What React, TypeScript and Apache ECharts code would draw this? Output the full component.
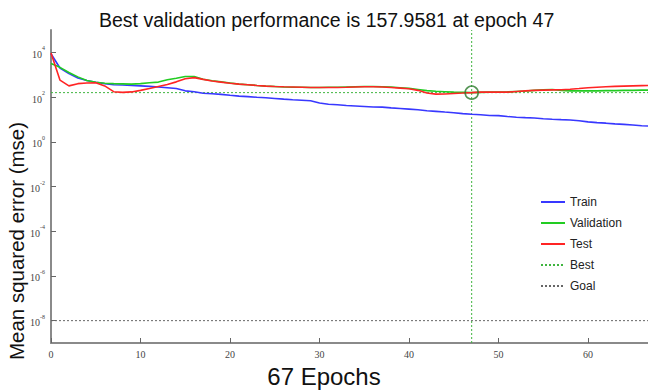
import React, { useEffect, useRef } from "react";
import * as echarts from "echarts";

// Mean squared error per epoch (epochs 0..67)
const trainMse = [
  8700, 2000, 1120, 710, 550, 457, 398, 355, 347, 331,
  316, 302, 282, 263, 240, 190, 174, 148, 141, 132,
  120, 110, 105, 98, 93, 87, 81, 76, 72, 68,
  54, 48, 45, 42, 40, 38, 36, 35.5, 33, 31,
  29, 27, 24.5, 23, 21.4, 20, 18.2, 17, 16.2, 15.1,
  14.8, 13.5, 12.6, 12, 11.5, 10.7, 10.2, 9.8, 9.5, 8.7,
  7.8, 7.2, 6.8, 6.3, 6, 5.6, 5.2, 5,
];
const validationMse = [
  3200, 2140, 1260, 800, 550, 457, 417, 398, 389, 380,
  398, 437, 468, 600, 690, 830, 830, 630, 537, 479,
  427, 380, 355, 331, 309, 295, 282, 275, 275, 269,
  269, 275, 275, 282, 288, 295, 295, 288, 282, 263,
  245, 219, 195, 182, 174, 166, 162, 157.9581, 162, 166,
  166, 170, 178, 186, 200, 214, 219, 200, 190, 190,
  190, 190, 195, 195, 200, 200, 204, 204,
];
const testMse = [
  9300, 575, 316, 398, 427, 437, 316, 174, 162, 170,
  200, 240, 295, 363, 479, 660, 741, 617, 525, 468,
  417, 380, 355, 331, 309, 295, 288, 282, 275, 269,
  269, 269, 269, 275, 282, 288, 288, 282, 269, 251,
  234, 200, 151, 135, 138, 145, 151, 158, 166, 166,
  166, 166, 178, 190, 200, 204, 209, 214, 224, 240,
  263, 275, 288, 302, 309, 316, 324, 331,
];
const bestEpoch = 47;
const bestPerf = 157.9581;
const goalMse = 1e-8;
const epochMax = 66.7;
// y axis runs over decades 1e-9 .. 1e5; labelled every second decade
const decadeMin = -9;
const decadeMax = 5;
const labelledDecades = [-8, -6, -4, -2, 0, 2, 4];
const legendNames = ["Train", "Validation", "Test", "Best", "Goal"];

// the y axis is a decade (log10) axis
const lg = (v: number) => Math.log10(v);
const toPoints = (vals: number[]) => vals.map((v, i) => [i, lg(v)]);

export default function App() {
  const ref = useRef<HTMLDivElement>(null);

  useEffect(() => {
    document.body.style.margin = "0";
    const chart = echarts.init(ref.current!, undefined, { renderer: "svg" });
    const sans = "Liberation Sans, Arial, sans-serif";
    const serif = "Liberation Serif, Times New Roman, serif";
    const noSym = { symbol: "none", showSymbol: false };
    const bestColor = "#3fb53f";

    chart.setOption({
      animation: false,
      backgroundColor: "#ffffff",
      title: {
        text: `Best validation performance is ${bestPerf} at epoch ${bestEpoch}`,
        left: 94,
        top: 5,
        textStyle: { fontFamily: sans, fontSize: 19.5, fontWeight: "normal", color: "#111" },
      },
      grid: { left: 51, right: 0, top: 30, bottom: 49 },
      xAxis: {
        type: "value",
        min: 0,
        max: epochMax,
        interval: 10,
        axisLine: { onZero: false, lineStyle: { color: "#8a8a8a", width: 2 } },
        axisTick: { inside: true, length: 5, lineStyle: { color: "#666" } },
        axisLabel: { fontFamily: serif, fontSize: 10, color: "#444", margin: 6, showMaxLabel: false },
        splitLine: { show: false },
      },
      yAxis: {
        type: "value",
        min: decadeMin,
        max: decadeMax,
        axisLine: { onZero: false, lineStyle: { color: "#8a8a8a", width: 2 } },
        axisTick: {
          inside: true,
          length: 5,
          lineStyle: { color: "#666" },
          customValues: labelledDecades,
        },
        splitLine: { show: false },
        axisLabel: {
          customValues: labelledDecades,
          margin: 6,
          formatter: (v: number) => `{b|10}{s|${Math.round(v)}}`,
          rich: {
            b: { fontFamily: serif, fontSize: 10, color: "#444", verticalAlign: "bottom", lineHeight: 14 },
            s: { fontFamily: serif, fontSize: 6, color: "#444", verticalAlign: "top", lineHeight: 14 },
          },
        },
      },
      legend: {
        data: legendNames,
        orient: "vertical",
        left: 535,
        top: 191,
        itemWidth: 24,
        itemHeight: 10,
        itemGap: 9,
        itemStyle: { opacity: 0 },
        textStyle: { fontFamily: sans, fontSize: 12, color: "#222" },
      },
      graphic: [
        {
          type: "text",
          x: 324,
          y: 364,
          style: {
            text: "67 Epochs",
            font: `24px ${sans}`,
            fill: "#111",
            align: "center",
            verticalAlign: "top",
          },
        },
        {
          type: "text",
          x: 6,
          y: 241,
          rotation: Math.PI / 2,
          style: {
            text: "Mean squared error (mse)",
            font: `20.5px ${sans}`,
            fill: "#111",
            align: "center",
            verticalAlign: "top",
          },
        },
      ],
      series: [
        {
          name: "Train",
          type: "line",
          ...noSym,
          data: toPoints(trainMse),
          color: "#3838ff",
          lineStyle: { width: 1.6, color: "#3838ff" },
          z: 3,
        },
        {
          name: "Validation",
          type: "line",
          ...noSym,
          data: toPoints(validationMse),
          color: "#22cc22",
          lineStyle: { width: 1.6, color: "#22cc22" },
          z: 3,
        },
        {
          name: "Test",
          type: "line",
          ...noSym,
          data: toPoints(testMse),
          color: "#ff2424",
          lineStyle: { width: 1.6, color: "#ff2424" },
          z: 4,
        },
        {
          name: "Best",
          type: "line",
          ...noSym,
          data: [[0, lg(bestPerf)], [epochMax, lg(bestPerf)]],
          color: bestColor,
          lineStyle: { width: 1, type: [2, 2], color: bestColor },
          z: 2,
        },
        {
          name: "Best",
          type: "line",
          ...noSym,
          data: [[bestEpoch, decadeMin], [bestEpoch, decadeMax]],
          color: bestColor,
          lineStyle: { width: 1, type: [2, 2], color: bestColor },
          z: 2,
        },
        {
          name: "Goal",
          type: "line",
          ...noSym,
          data: [[0, lg(goalMse)], [epochMax, lg(goalMse)]],
          color: "#666",
          lineStyle: { width: 1, type: [2, 2], color: "#666" },
          z: 2,
        },
        {
          name: "bestMarker",
          type: "scatter",
          data: [[bestEpoch, lg(bestPerf)]],
          symbol: "circle",
          symbolSize: 13,
          itemStyle: { color: "rgba(0,0,0,0)", borderColor: "#2a7a2a", borderWidth: 1.6 },
          z: 5,
        },
      ],
    });
    return () => chart.dispose();
  }, []);

  return <div ref={ref} style={{ width: 648, height: 392 }} />;
}
